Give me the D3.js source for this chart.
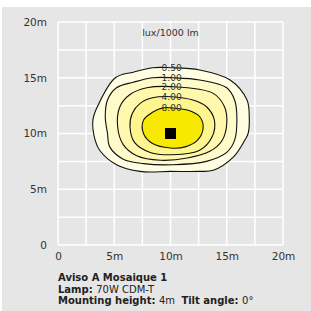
<!DOCTYPE html>
<html>
<head>
<meta charset="utf-8">
<script src="https://cdn.jsdelivr.net/npm/d3@7"></script>
<style>
    body { margin: 0; background: #fff; }
    svg { display: block; }
</style>
</head>
<body>
<div id="main_area"></div>
<script>
// contour levels (lux/1000 lm) and their traced outlines, in metres
var levels = ["0.50", "1.00", "2.00", "4.00", "8.00"];
var levelColors = ["#fffee2", "#fffbc9", "#fff8ad", "#fff58e", "#f7e900"];

var contour050 = [[10.0, 15.9], [12.6, 15.7], [15.3, 14.8], [16.8, 13.0], [17.0, 11.5], [16.9, 10.0],
    [16.6, 9.4], [15.6, 7.9], [13.8, 6.7], [12.6, 6.6], [10.0, 6.6], [7.3, 6.6], [5.2, 7.2], [3.7, 8.5],
    [3.3, 9.4], [3.1, 11.2], [3.5, 12.4], [5.1, 15.0], [6.7, 15.5], [8.4, 15.9]];
var contour100 = [[10.2, 15.0], [12.6, 14.8], [15.0, 14.1], [15.7, 13.0], [15.9, 11.5], [15.7, 9.4],
    [15.0, 8.3], [13.2, 7.5], [10.2, 7.2], [7.6, 7.3], [5.8, 7.7], [4.6, 8.8], [4.4, 10.0], [4.2, 11.5],
    [4.4, 13.0], [5.2, 14.1], [6.7, 14.6], [8.4, 15.0]];
var contour200 = [[10.1, 14.2], [13.8, 13.6], [14.8, 12.4], [15.0, 10.9], [14.6, 9.4], [13.5, 8.4],
    [11.5, 7.8], [9.1, 7.6], [7.0, 8.0], [5.8, 9.0], [5.3, 10.6], [5.5, 12.4], [6.4, 13.5], [7.9, 14.1]];
var contour400 = [[10.1, 13.3], [12.0, 13.0], [13.2, 12.4], [13.9, 11.2], [13.7, 9.7], [12.6, 8.5],
    [10.2, 8.1], [8.2, 8.3], [6.8, 9.2], [6.4, 10.6], [6.6, 11.8], [7.3, 12.7], [8.4, 13.2]];
var contour800 = [[10.1, 12.3], [11.5, 12.1], [12.6, 11.5], [12.9, 10.5], [12.4, 9.4], [11.3, 8.8],
    [10.0, 8.7], [8.4, 9.1], [7.6, 10.0], [7.6, 11.2], [8.4, 11.9], [9.3, 12.3]];
var contours = [contour050, contour100, contour200, contour400, contour800];

var lampPos = [10, 10];
var tickValues = [0, 5, 10, 15, 20];
var gridValues = [0, 2.5, 5, 7.5, 10, 12.5, 15, 17.5, 20];
var labelX = 10.1;

var svg = d3.select("div#main_area")
    .append("svg")
    .attr("width", 311)
    .attr("height", 311)
    .attr("font-family", "DejaVu Sans, sans-serif");

// grey card
svg.append("rect")
    .attr("x", 2)
    .attr("y", 7)
    .attr("width", 309)
    .attr("height", 304)
    .attr("fill", "#e6e6e6");

var x = d3.scaleLinear().domain([0, 20]).range([58, 283]);
var y = d3.scaleLinear().domain([0, 20]).range([245, 22]);

// white grid
svg.append("g")
    .selectAll("line")
    .data(gridValues)
    .enter()
    .append("line")
    .attr("x1", function (d) { return x(d); })
    .attr("x2", function (d) { return x(d); })
    .attr("y1", y(0))
    .attr("y2", y(20))
    .attr("stroke", "#fff")
    .attr("stroke-width", 1.5);
svg.append("g")
    .selectAll("line")
    .data(gridValues)
    .enter()
    .append("line")
    .attr("y1", function (d) { return y(d); })
    .attr("y2", function (d) { return y(d); })
    .attr("x1", x(0))
    .attr("x2", x(20))
    .attr("stroke", "#fff")
    .attr("stroke-width", 1.5);

// contours
var line = d3.line()
    .x(function (d) { return x(d[0]); })
    .y(function (d) { return y(d[1]); })
    .curve(d3.curveCatmullRomClosed.alpha(0.5));

svg.append("g")
    .selectAll("path")
    .data(contours)
    .enter()
    .append("path")
    .attr("d", line)
    .attr("fill", function (d, i) { return levelColors[i]; })
    .attr("stroke", "#111")
    .attr("stroke-width", 1.1)
    .attr("stroke-linejoin", "round");

// level labels sit on the top of each contour
svg.append("g")
    .selectAll("text")
    .data(levels)
    .enter()
    .append("text")
    .attr("x", x(labelX))
    .attr("y", function (d, i) { return y(contours[i][0][1]); })
    .attr("dy", "0.35em")
    .attr("text-anchor", "middle")
    .attr("font-size", 9)
    .attr("fill", "#333")
    .text(function (d) { return d; });

// lamp
svg.append("rect")
    .attr("x", x(lampPos[0]) - 5.5)
    .attr("y", y(lampPos[1]) - 5.5)
    .attr("width", 11)
    .attr("height", 11)
    .attr("fill", "#000");

svg.append("text")
    .attr("x", x(10))
    .attr("y", 33)
    .attr("dy", "0.35em")
    .attr("text-anchor", "middle")
    .attr("font-size", 9.5)
    .attr("fill", "#333")
    .text("lux/1000 lm");

// axes
var fmt = function (d) { return d === 0 ? "0" : d + "m"; };
var yAxis = svg.append("g")
    .attr("transform", "translate(" + x(0) + ",0)")
    .call(d3.axisLeft(y).tickValues(tickValues).tickFormat(fmt).tickSize(0).tickPadding(11));
var xAxis = svg.append("g")
    .attr("transform", "translate(0," + y(0) + ")")
    .call(d3.axisBottom(x).tickValues(tickValues).tickFormat(fmt).tickSize(0).tickPadding(8));
[yAxis, xAxis].forEach(function (a) {
    a.select(".domain").remove();
    a.selectAll("text")
        .attr("font-family", "DejaVu Sans, sans-serif")
        .attr("font-size", 10.5)
        .attr("fill", "#333");
});

// caption
var caption = svg.append("g")
    .attr("font-size", 10)
    .attr("fill", "#222");
caption.append("text")
    .attr("x", 58)
    .attr("y", 281)
    .attr("font-weight", "bold")
    .text("Aviso A Mosaique 1");
var l2 = caption.append("text").attr("x", 58).attr("y", 292.5);
l2.append("tspan").attr("font-weight", "bold").text("Lamp: ");
l2.append("tspan").text("70W CDM-T");
var l3 = caption.append("text").attr("x", 58).attr("y", 304);
l3.append("tspan").attr("font-weight", "bold").text("Mounting height: ");
l3.append("tspan").text("4m\u00a0\u00a0");
l3.append("tspan").attr("font-weight", "bold").text("Tilt angle: ");
l3.append("tspan").text("0°");
</script>
</body>
</html>
